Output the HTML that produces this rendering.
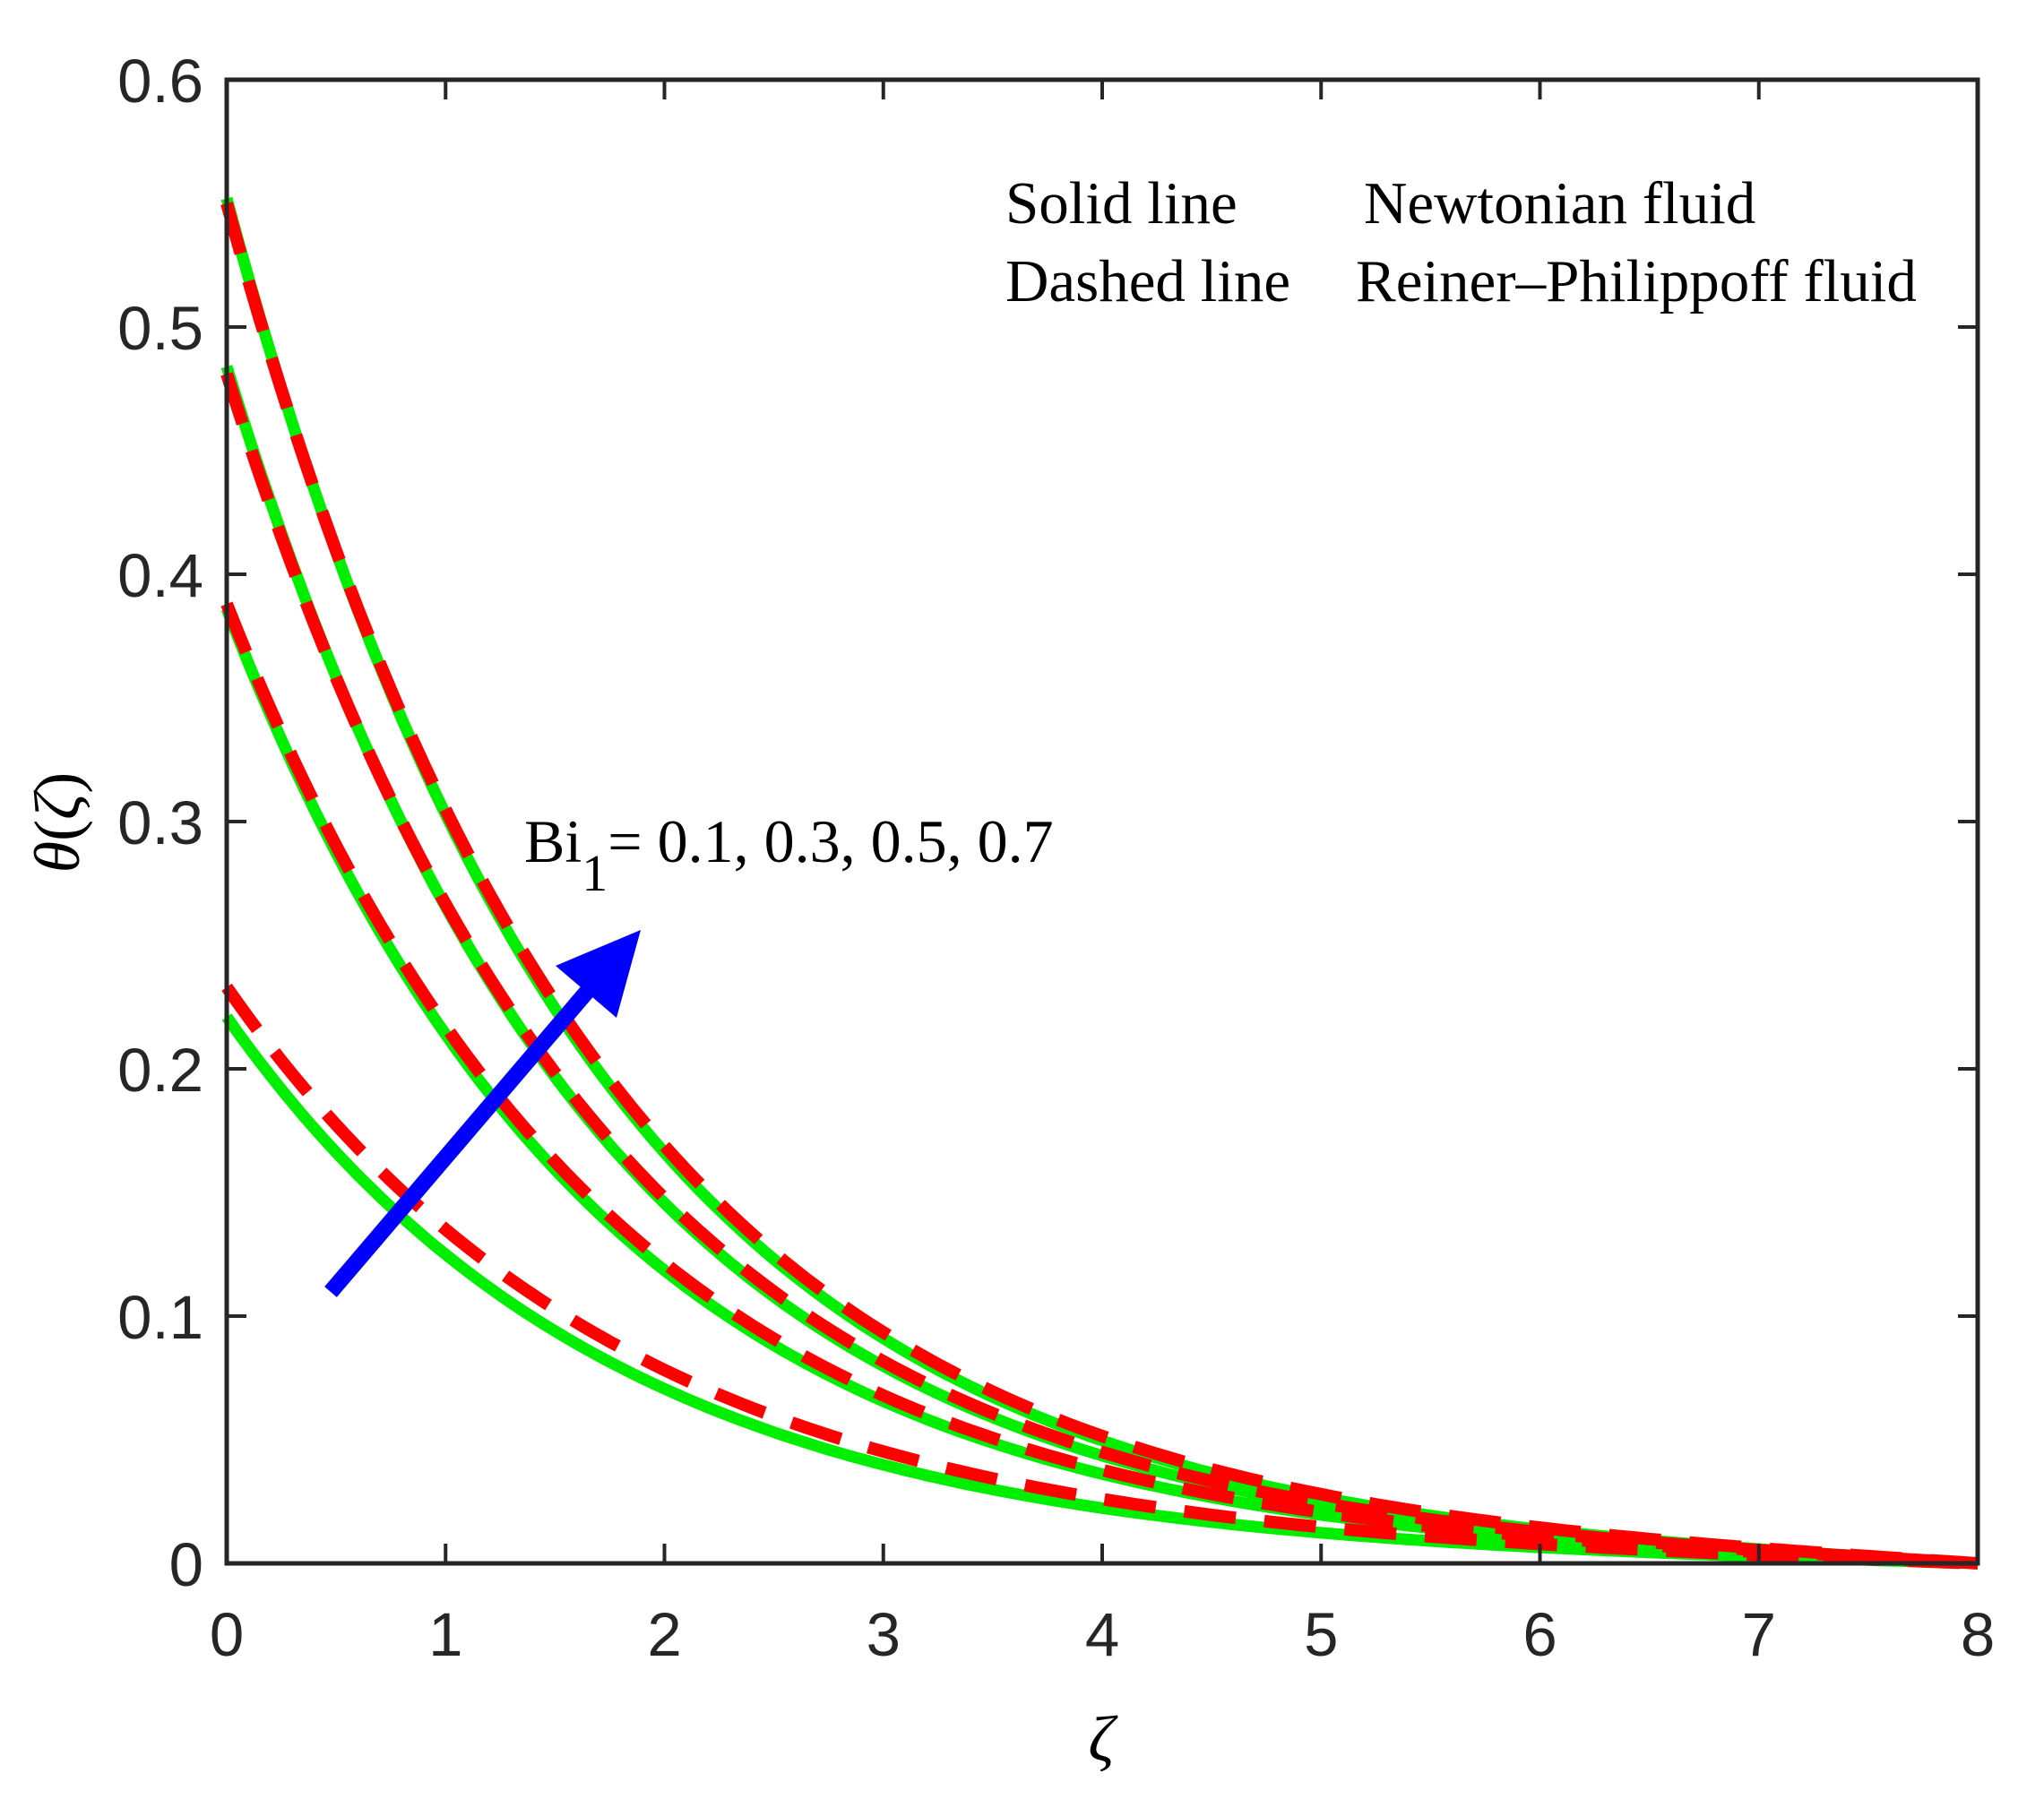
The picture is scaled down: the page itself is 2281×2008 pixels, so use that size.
<!DOCTYPE html>
<html><head><meta charset="utf-8"><style>
html,body{margin:0;padding:0;background:#fff;}
svg{display:block}
</style></head><body>
<svg id="s" width="2281" height="2008" viewBox="0 0 2281 2008" xmlns="http://www.w3.org/2000/svg">
<rect width="2281" height="2008" fill="#fff"/>
<g id="curves"></g>
<g stroke="#262626" stroke-width="5" fill="none">
<rect x="253" y="89" width="1954" height="1656"/>
</g>
<g id="ticks" stroke="#262626" stroke-width="4"></g>
<g id="labels" font-family="Liberation Sans, sans-serif" font-size="69" fill="#262626"></g>
<g font-family="Liberation Serif, serif" font-size="67" fill="#000">
<text x="1122" y="249">Solid line</text>
<text x="1522" y="249">Newtonian fluid</text>
<text x="1122" y="336">Dashed line</text>
<text x="1513" y="336">Reiner–Philippoff fluid</text>
<text x="585" y="962" font-size="68">Bi<tspan dy="32" font-size="58">1</tspan><tspan dy="-32">= 0.1, 0.3, 0.5, 0.7</tspan></text>
<text x="1229" y="1965" font-style="italic" font-size="72" text-anchor="middle">ζ</text>
<text transform="translate(88,918) rotate(-90)" font-size="72" text-anchor="middle"><tspan font-style="italic">θ</tspan>(<tspan font-style="italic">ζ</tspan>)</text>
</g>
<g>
<line x1="369" y1="1442" x2="660" y2="1101" stroke="#0000ff" stroke-width="18"/>
<polygon points="715,1038 620,1078 688,1136" fill="#0000ff"/>
</g>
</svg>
<script>
var L=253,R=2207,T=89,B=1745;
function X(z){return L+z*(R-L)/8;}
function Y(t){return B-t*(B-T)/0.6;}
function path(t0,k){var d="";for(var i=0;i<=160;i++){var z=i*8/160;var v=t0*Math.sinh(k*(8-z))/Math.sinh(8*k);d+=(i?"L":"M")+X(z).toFixed(1)+","+Y(v).toFixed(1);}return d;}
var g=document.getElementById("curves"),h="";
var G=[[0.552,0.60],[0.484,0.60],[0.386,0.59],[0.221,0.57]];
var Rd=[[0.550,0.59],[0.481,0.59],[0.388,0.58],[0.233,0.545]];
G.forEach(function(c){h+='<path d="'+path(c[0],c[1])+'" stroke="#00ee00" stroke-width="13" fill="none"/>';});
Rd.forEach(function(c){h+='<path d="'+path(c[0],c[1])+'" stroke="#ff0000" stroke-width="14" fill="none" stroke-dasharray="58,32"/>';});
g.innerHTML=h;
var tk="",lb="";
for(var i=0;i<=8;i++){var x=X(i);if(i>0&&i<8){tk+='<line x1="'+x+'" y1="'+B+'" x2="'+x+'" y2="'+(B-22)+'"/><line x1="'+x+'" y1="'+T+'" x2="'+x+'" y2="'+(T+22)+'"/>';}
lb+='<text x="'+x+'" y="1848" text-anchor="middle">'+i+'</text>';}
for(var j=0;j<=6;j++){var v=j/10,y=Y(v);if(j>0&&j<6){tk+='<line x1="'+L+'" y1="'+y+'" x2="'+(L+22)+'" y2="'+y+'"/><line x1="'+R+'" y1="'+y+'" x2="'+(R-22)+'" y2="'+y+'"/>';}
lb+='<text x="227" y="'+(y+25)+'" text-anchor="end">'+(j==0?"0":v.toFixed(1))+'</text>';}
document.getElementById("ticks").innerHTML=tk;
document.getElementById("labels").innerHTML=lb;
</script>
</body></html>
